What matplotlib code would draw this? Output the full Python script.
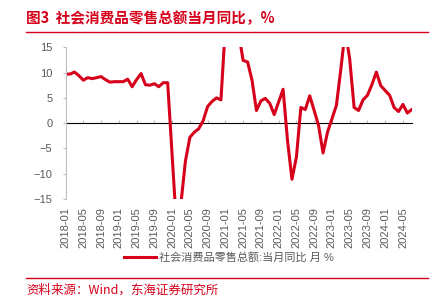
import pandas as pd
import matplotlib
matplotlib.use('Agg')
import matplotlib.pyplot as plt
from matplotlib.lines import Line2D

plt.rcParams['font.family'] = ['Liberation Sans', 'Noto Sans CJK SC', 'DejaVu Sans']

RED = '#d7001b'
GRAY = '#595959'

# 社会消费品零售总额:当月同比 (%), 2018-01 .. 2024-07 (January not published after 2018)
yoy_2018 = [9.7, 9.7, 10.1, 9.4, 8.5, 9.0, 8.8, 9.0, 9.2, 8.6, 8.1, 8.2]
yoy_2019 = [None, 8.2, 8.7, 7.2, 8.6, 9.8, 7.6, 7.5, 7.8, 7.2, 8.0, 8.0]
yoy_2020 = [None, -20.5, -15.8, -7.5, -2.8, -1.8, -1.1, 0.5, 3.3, 4.3, 5.0, 4.6]
yoy_2021 = [None, 33.8, 34.2, 17.7, 12.4, 12.1, 8.5, 2.5, 4.4, 4.9, 3.9, 1.7]
yoy_2022 = [None, 6.7, -3.5, -11.1, -6.7, 3.1, 2.7, 5.4, 2.5, -0.5, -5.9, -1.8]
yoy_2023 = [None, 3.5, 10.6, 18.4, 12.7, 3.1, 2.5, 4.6, 5.5, 7.6, 10.1, 7.4]
yoy_2024 = [None, 5.5, 3.1, 2.3, 3.7, 2.0, 2.7]

values = yoy_2018 + yoy_2019 + yoy_2020 + yoy_2021 + yoy_2022 + yoy_2023 + yoy_2024
months = pd.date_range('2018-01', periods=len(values), freq='MS').strftime('%Y-%m').tolist()
s = pd.Series(values, dtype=float).dropna()
tick_pos = list(range(0, len(values), 4))
tick_labels = months[::4]

fig = plt.figure(figsize=(4.4, 2.95), dpi=100)
ax = fig.add_axes([0.149, 0.3254, 0.787, 0.5143])

ax.plot(s.index, s.values, color=RED, lw=2.2, label='社会消费品零售总额:当月同比 月 %')
ax.set_xlim(0, len(values) - 1)
ax.set_ylim(-15, 15)
ax.set_yticks([-15, -10, -5, 0, 5, 10, 15])

for sp in ['top', 'right', 'bottom']:
    ax.spines[sp].set_visible(False)
ax.spines['left'].set_color('#bfbfbf')
ax.spines['left'].set_linewidth(0.8)
ax.tick_params(axis='y', colors='#bfbfbf', length=2.5, width=0.8, pad=7,
               labelsize=8, labelcolor=GRAY)

ax.set_xticks(tick_pos)
ax.set_xticklabels(tick_labels, rotation=90)
ax.tick_params(axis='x', length=0, pad=6, labelsize=8, labelcolor=GRAY)

# axis line at zero with tick marks
sec = ax.secondary_xaxis(0.5)
sec.set_xticks(tick_pos)
sec.set_xticklabels([])
sec.spines['bottom'].set_color('#cfcfcf')
sec.spines['bottom'].set_linewidth(1.0)
sec.tick_params(axis='x', direction='out', length=2.5, width=0.8, colors='#bfbfbf')

fig.legend(loc='center', bbox_to_anchor=(0.52, 0.128), frameon=False, fontsize=8,
           handlelength=2.9, handletextpad=0.25, borderpad=0, labelcolor=GRAY)

fig.text(0.059, 0.939, '图3  社会消费品零售总额当月同比，%', color=RED, fontsize=10.5,
         fontweight='bold', va='center', ha='left', family=['Noto Sans CJK SC', 'DejaVu Sans'])
fig.add_artist(Line2D([0.059, 0.9727], [0.8905, 0.8905], color=RED, lw=1.0))
fig.add_artist(Line2D([0.059, 0.9727], [0.0566, 0.0566], color=RED, lw=1.0))
fig.text(0.059, 0.039, '资料来源：Wind，东海证券研究所', color=RED, fontsize=9,
         va='top', ha='left', family=['Noto Sans CJK SC', 'DejaVu Sans'])

fig.savefig('out.png', dpi=100)
